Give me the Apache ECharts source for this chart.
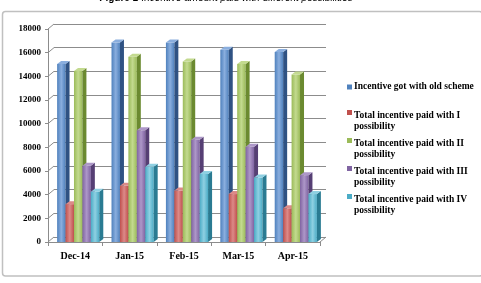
<!DOCTYPE html>
<html>
<head>
<meta charset="utf-8">
<script src="https://cdn.jsdelivr.net/npm/echarts@6/dist/echarts.min.js"></script>
<style>
  html, body { margin: 0; padding: 0; background: #fff; }
  #chart { width: 481px; height: 283px; }
</style>
</head>
<body>
<div id="chart"></div>
<script>
/* data */
const months = ['Dec-14', 'Jan-15', 'Feb-15', 'Mar-15', 'Apr-15'];
const oldScheme = [15050, 16850, 16850, 16250, 16050];
const possibilityI = [3200, 4750, 4350, 4050, 2850];
const possibilityII = [14450, 15650, 15250, 15050, 14150];
const possibilityIII = [6450, 9450, 8650, 8050, 5650];
const possibilityIV = [4250, 6350, 5750, 5450, 4050];
const yTicks = [0, 2000, 4000, 6000, 8000, 10000, 12000, 14000, 16000, 18000];

const seriesNames = [
  'Incentive got with old scheme',
  'Total incentive paid with I\npossibility',
  'Total incentive paid with II\npossibility',
  'Total incentive paid with III\npossibility',
  'Total incentive paid with IV\npossibility'
];
const seriesData = [oldScheme, possibilityI, possibilityII, possibilityIII, possibilityIV];
// front, side, top colours
const palette = [
  ['#4F81BD', '#2f5283', '#8aaede'],
  ['#C0504D', '#8c2f2d', '#dc8a88'],
  ['#9BBB59', '#6b8a30', '#c3da8f'],
  ['#8064A2', '#563f74', '#ad97c8'],
  ['#4BACC6', '#2a7b92', '#8fd0e2']
];

const DX = 6, DY = 5;      // wall depth
const BD = 4, BE = 3;      // bar depth

// 3D looking bar
function barRenderer(idx) {
  return function (params, api) {
    const x = api.value(0), v = api.value(1);
    const base = api.coord([x, 0]);
    const top = api.coord([x, v]);
    const band = api.size([1, 0])[0];
    const w = band * 0.155;
    const x0 = base[0] - 2.5 * w + idx * w + 3;
    const c = palette[idx];
    return {
      type: 'group',
      children: [
        {
          type: 'rect',
          shape: { x: x0, y: top[1], width: w, height: base[1] - top[1] },
          style: {
            fill: new echarts.graphic.LinearGradient(0, 0, 1, 0, [
              { offset: 0, color: c[0] },
              { offset: 0.5, color: c[2] },
              { offset: 1, color: c[0] }
            ])
          }
        },
        {
          type: 'polygon',
          shape: { points: [[x0 + w, top[1]], [x0 + w + BD, top[1] - BE], [x0 + w + BD, base[1] - BE], [x0 + w, base[1]]] },
          style: { fill: c[1] }
        },
        {
          type: 'polygon',
          shape: { points: [[x0, top[1]], [x0 + BD, top[1] - BE], [x0 + w + BD, top[1] - BE], [x0 + w, top[1]]] },
          style: { fill: c[2] }
        }
      ]
    };
  };
}

// slanted lines joining the front axis with the back wall
function wallRenderer(params, api) {
  const p = api.coord([0, api.value(1)]);
  const x = p[0] - api.size([1, 0])[0] / 2;
  return {
    type: 'line',
    shape: { x1: x, y1: p[1], x2: x + DX, y2: p[1] - DY },
    style: { stroke: '#8c8c8c', lineWidth: 1 }
  };
}
function floorRenderer(params, api) {
  const p = api.coord([4, 0]);
  const x = p[0] + api.size([1, 0])[0] / 2;
  return {
    type: 'line',
    shape: { x1: x, y1: p[1], x2: x + DX, y2: p[1] - DY },
    style: { stroke: '#8c8c8c', lineWidth: 1 }
  };
}

const labelFont = { fontFamily: 'Liberation Serif', fontWeight: 'bold', color: '#000' };
const legendIcon = 'path://M0,0h5v5h-5z M0,21.9h0.05v0.05h-0.05z';

const chart = echarts.init(document.getElementById('chart'));

let series = seriesData.map((d, i) => ({
  name: seriesNames[i],
  type: 'custom',
  xAxisIndex: 1,
  yAxisIndex: 1,
  itemStyle: { color: palette[i][0] },
  renderItem: barRenderer(i),
  data: d.map((v, j) => [j, v]),
  z: 5
}));
series.push({
  type: 'custom',
  xAxisIndex: 1,
  yAxisIndex: 1,
  renderItem: wallRenderer,
  data: yTicks.map(v => [0, v]),
  silent: true,
  z: 3
});
series.push({
  type: 'custom',
  xAxisIndex: 1,
  yAxisIndex: 1,
  renderItem: floorRenderer,
  data: [[4, 0]],
  silent: true,
  z: 3
});

chart.setOption({
  animation: false,
  graphic: [
    {
      type: 'rect',
      shape: { x: 2.5, y: 11.5, width: 480, height: 264.5, r: 3 },
      style: { fill: 'none', stroke: '#c0c0c0', lineWidth: 1.5 },
      z: -10
    },
    {
      type: 'text',
      x: 226,
      y: -2,
      style: {
        text: '{b|Figure 1} {i|Incentive amount paid with different possibilities}',
        align: 'center',
        verticalAlign: 'middle',
        rich: {
          b: { fontFamily: 'Liberation Sans', fontWeight: 'bold', fontSize: 10, fill: '#000' },
          i: { fontFamily: 'Liberation Sans', fontStyle: 'italic', fontSize: 10, fill: '#000' }
        }
      }
    }
  ],
  legend: [
    {
      data: [seriesNames[0]],
      orient: 'vertical',
      left: 342,
      top: 77,
      itemWidth: 5,
      itemHeight: 5,
      icon: 'rect',
      textStyle: Object.assign({ fontSize: 9.5, padding: [0, 0, 0, -3] }, labelFont)
    },
    {
      data: seriesNames.slice(1),
      orient: 'vertical',
      left: 342,
      top: 105,
      itemGap: 6,
      itemWidth: 5,
      itemHeight: 22,
      icon: legendIcon,
      textStyle: Object.assign({ fontSize: 9.5, lineHeight: 11, padding: [0, 0, 0, -3] }, labelFont)
    }
  ],
  grid: [
    { left: 48 + DX, right: 161 - DX, top: 29 - DY, bottom: 41 + DY },
    { left: 48, right: 161, top: 29, bottom: 41 }
  ],
  xAxis: [
    {
      gridIndex: 0,
      type: 'category',
      data: months,
      show: false
    },
    {
      gridIndex: 1,
      type: 'category',
      data: months,
      axisLine: { lineStyle: { color: '#8c8c8c' } },
      axisTick: { show: true, length: 4, lineStyle: { color: '#8c8c8c' } },
      axisLabel: Object.assign({ fontSize: 10, margin: 9 }, labelFont)
    }
  ],
  yAxis: [
    {
      gridIndex: 0,
      type: 'value',
      min: 0,
      max: 18000,
      interval: 2000,
      axisLabel: { show: false },
      axisLine: { show: false },
      axisTick: { show: false },
      splitLine: { lineStyle: { color: '#8c8c8c', width: 1 } }
    },
    {
      gridIndex: 1,
      type: 'value',
      min: 0,
      max: 18000,
      interval: 2000,
      axisLine: { show: true, lineStyle: { color: '#8c8c8c' } },
      axisTick: { show: true, length: 3, lineStyle: { color: '#8c8c8c' } },
      splitLine: { show: false },
      axisLabel: Object.assign({ fontSize: 9, margin: 7, formatter: v => String(v) }, labelFont)
    }
  ],
  series: series
});
</script>
</body>
</html>
